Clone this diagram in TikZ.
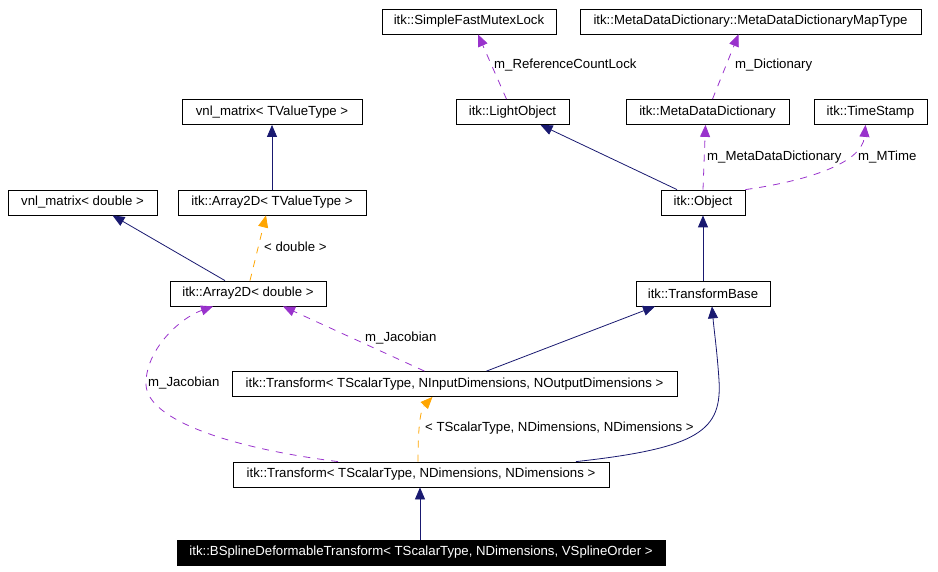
\documentclass[tikz,border=0pt]{standalone}
\usepackage{fontspec}
\setmainfont{Liberation Sans}
\usetikzlibrary{arrows.meta}
\definecolor{EdgeNavy}{RGB}{25,25,112}
\definecolor{EdgePurple}{RGB}{153,50,204}
\definecolor{EdgeOrange}{RGB}{255,165,0}

\begin{document}
\begin{tikzpicture}[x=1pt,y=-1pt,>={Triangle[length=12pt,width=10pt]},font=\fontsize{13.2}{15}\selectfont]
\tikzstyle{cls}=[draw,line width=0.8pt,minimum height=25pt,inner sep=0pt,fill=white]
\tikzstyle{self}=[cls,fill=black,text=white]
\tikzstyle{inherit}=[->,line width=0.8pt,EdgeNavy]
\tikzstyle{member}=[->,line width=0.8pt,EdgePurple,dash pattern=on 7pt off 7pt]
\tikzstyle{templ}=[->,line width=0.8pt,EdgeOrange,dash pattern=on 7pt off 7pt]
\tikzstyle{lbl}=[anchor=west,inner sep=0pt]
\useasboundingbox (0,0) rectangle (938,572);
% classes
\node[cls,minimum width=174pt] (mutex) at (469,21.5) {itk::SimpleFastMutexLock};
\node[cls,minimum width=341pt] (maptype) at (750.5,21.5) {itk::MetaDataDictionary::MetaDataDictionaryMapType};
\node[cls,minimum width=180pt] (vnlT) at (272,112) {vnl\_matrix< TValueType >};
\node[cls,minimum width=113pt] (light) at (512.5,112) {itk::LightObject};
\node[cls,minimum width=163pt] (mdd) at (707.5,112) {itk::MetaDataDictionary};
\node[cls,minimum width=113pt] (tstamp) at (870.5,112) {itk::TimeStamp};
\node[cls,minimum width=149pt] (vnld) at (82.5,202.5) {vnl\_matrix< double >};
\node[cls,minimum width=188pt] (arrT) at (272,202.5) {itk::Array2D< TValueType >};
\node[cls,minimum width=84pt] (object) at (703,202.5) {itk::Object};
\node[cls,minimum width=156pt] (arrd) at (248,293.5) {itk::Array2D< double >};
\node[cls,minimum width=134pt] (tbase) at (703,293.5) {itk::TransformBase};
\node[cls,minimum width=445pt] (tin) at (454.5,384) {itk::Transform< TScalarType, NInputDimensions, NOutputDimensions >};
\node[cls,minimum width=376pt] (tdim) at (421,474.5) {itk::Transform< TScalarType, NDimensions, NDimensions >};
\node[self,minimum width=488pt] (bspline) at (421,552.5) {itk::BSplineDeformableTransform< TScalarType, NDimensions, VSplineOrder >};
% inheritance
\draw[inherit] (arrT.north) -- (vnlT.south);
\draw[inherit] ([xshift=-23pt]arrd.north) -- ([xshift=30pt]vnld.south);
\draw[inherit] ([xshift=-26pt]object.north) -- ([xshift=28pt]light.south);
\draw[inherit] (tbase.north) -- (object.south);
\draw[inherit] ([xshift=32pt]tin.north) -- ([xshift=-48pt]tbase.south);
\draw[inherit] ([xshift=155pt]tdim.north) .. controls (700,448) and (722,430) .. (719,380)
  .. controls (717,350) and (714,330) .. ([xshift=9pt]tbase.south);
\draw[inherit] ([xshift=-1pt]bspline.north) -- ([xshift=-1pt]tdim.south);
% template instances
\draw[templ] ([xshift=2pt]arrd.north) -- ([xshift=-6pt]arrT.south);
\node[lbl] (lblDouble) at (264,247) {< double >};
\draw[templ] ([xshift=-3pt]tdim.north) .. controls (418,430) and (420,410) .. ([xshift=-22pt]tin.south);
\node[lbl] (lblNDim) at (425,428) {< TScalarType, NDimensions, NDimensions >};
% members
\draw[member] ([xshift=-6pt]light.north) -- ([xshift=9pt]mutex.south);
\node[lbl] (lblLock) at (494,65) {m\_ReferenceCountLock};
\draw[member] ([xshift=5pt]mdd.north) -- ([xshift=-12pt]maptype.south);
\node[lbl] (lblDict) at (735,65) {m\_Dictionary};
\draw[member] (object.north) -- ([xshift=-2pt]mdd.south);
\node[lbl] (lblMdd) at (707,157) {m\_MetaDataDictionary};
\draw[member] (object.north east) .. controls (800,182) and (862,165) .. ([xshift=-5pt]tstamp.south);
\node[lbl] (lblTime) at (858,157) {m\_MTime};
\draw[member] ([xshift=-30pt]tin.north) -- ([xshift=35pt]arrd.south);
\node[lbl] (lblJacA) at (365,338) {m\_Jacobian};
\draw[member] ([xshift=-83pt]tdim.north) .. controls (230,448) and (148,420) .. (146,385)
  .. controls (145,350) and (180,318) .. ([xshift=-35pt]arrd.south);
\node[lbl] (lblJacB) at (148,383) {m\_Jacobian};
\end{tikzpicture}
\end{document}
